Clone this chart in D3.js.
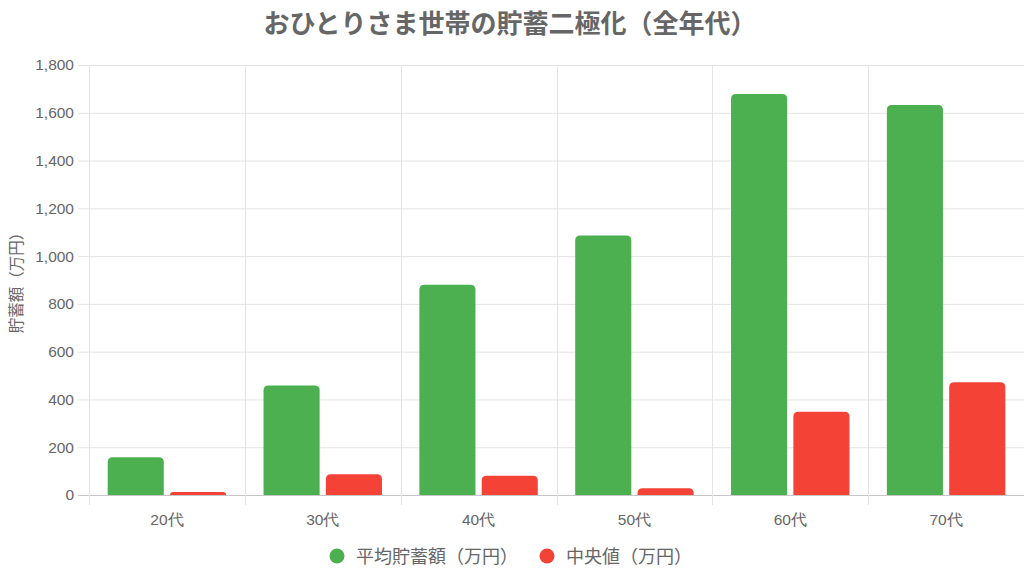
<!DOCTYPE html>
<html>
<head>
<meta charset="utf-8">
<script src="https://cdn.jsdelivr.net/npm/d3@7"></script>
<style>
  html, body { margin: 0; padding: 0; background: #fff; }
  svg { display: block; font-family: "Liberation Sans", "Noto Sans CJK JP", sans-serif; }
</style>
</head>
<body>
<div id="chart"></div>
<script>
// --- Data ---
const categories = ['20代', '30代', '40代', '50代', '60代', '70代'];
const seriesNames = ['平均貯蓄額（万円）', '中央値（万円）'];
const averageValues = [158, 458, 880, 1086, 1679, 1633];
const medianValues = [13, 87, 81, 28, 348, 472];
const yTicks = [0, 200, 400, 600, 800, 1000, 1200, 1400, 1600, 1800];
const seriesColors = ['#4caf50', '#f44336'];

const W = 1024, H = 579;
const margin = { top: 65, right: 0, bottom: 84, left: 89 };
const width = W - margin.left - margin.right;
const height = H - margin.top - margin.bottom;

const svg = d3.select('#chart').append('svg')
    .attr('width', W)
    .attr('height', H);

// Title
svg.append('text')
    .attr('x', W / 2 - 2)
    .attr('y', 33)
    .attr('text-anchor', 'middle')
    .style('font-size', '26px')
    .style('font-weight', 'bold')
    .style('fill', '#666')
    .style('font-family', '"Noto Sans CJK JP", sans-serif')
    .text('おひとりさま世帯の貯蓄二極化（全年代）');

const g = svg.append('g').attr('transform', `translate(${margin.left}, ${margin.top})`);

// Scales
const x0 = d3.scaleBand().domain(categories).range([0, width]).padding(0);
const x1 = d3.scaleBand()
    .domain(seriesNames)
    .range([x0.bandwidth() * 0.1, x0.bandwidth() * 0.9])
    .paddingInner(0.1)
    .paddingOuter(0.05);
const y = d3.scaleLinear().domain([0, 1800]).range([height, 0]);

// Horizontal grid
g.append('g')
    .selectAll('line')
    .data(yTicks)
    .enter()
    .append('line')
    .attr('x1', -11)
    .attr('x2', width)
    .attr('y1', d => y(d) + 0.5)
    .attr('y2', d => y(d) + 0.5)
    .attr('stroke', d => d === 0 ? '#c6c6c6' : '#e4e4e4')
    .attr('stroke-width', 1);

// Vertical grid at category boundaries
const boundaries = categories.map(c => x0(c)).concat([width]);
g.append('g')
    .selectAll('line')
    .data(boundaries)
    .enter()
    .append('line')
    .attr('x1', d => Math.round(d) + 0.5)
    .attr('x2', d => Math.round(d) + 0.5)
    .attr('y1', 0)
    .attr('y2', height + 10)
    .attr('stroke', '#e4e4e4')
    .attr('stroke-width', 1);

// Y axis labels
const yAxis = g.append('g')
    .call(d3.axisLeft(y).tickValues(yTicks).tickSize(0).tickPadding(15).tickFormat(d3.format(',')));
yAxis.select('.domain').remove();
yAxis.selectAll('text')
    .style('font-size', '15.5px')
    .style('fill', '#666');

// X axis labels
const xAxis = g.append('g')
    .attr('transform', `translate(0, ${height})`)
    .call(d3.axisBottom(x0).tickSize(0).tickPadding(19));
xAxis.select('.domain').remove();
xAxis.selectAll('text')
    .style('font-size', '15.5px')
    .style('fill', '#666');

// Y axis title
svg.append('text')
    .attr('transform', `translate(22, ${margin.top + height / 2 - 1}) rotate(-90)`)
    .attr('text-anchor', 'middle')
    .style('font-size', '15.5px')
    .style('fill', '#666')
    .style('font-family', '"Noto Sans CJK JP", sans-serif')
    .text('貯蓄額（万円）');

// Bars (top corners rounded)
function barPath(bx, by, bw, bh, r) {
    r = Math.min(r, bw / 2, bh);
    return `M${bx},${by + bh}` +
        `V${by + r}` +
        `Q${bx},${by} ${bx + r},${by}` +
        `H${bx + bw - r}` +
        `Q${bx + bw},${by} ${bx + bw},${by + r}` +
        `V${by + bh}Z`;
}

const rows = categories.map((c, i) => ({
    cat: c,
    values: [
        { name: seriesNames[0], value: averageValues[i], color: seriesColors[0] },
        { name: seriesNames[1], value: medianValues[i], color: seriesColors[1] }
    ]
}));

g.selectAll('.group')
    .data(rows)
    .enter()
    .append('g')
    .attr('class', 'group')
    .attr('transform', d => `translate(${x0(d.cat)}, 0)`)
    .selectAll('path')
    .data(d => d.values)
    .enter()
    .append('path')
    .attr('d', d => barPath(x1(d.name), y(d.value), x1.bandwidth(), height - y(d.value), 5))
    .attr('fill', d => d.color);

// Legend
const legend = svg.append('g').style('font-family', '"Noto Sans CJK JP", sans-serif');
const legendItems = [
    { name: seriesNames[0], color: seriesColors[0], x: 337 },
    { name: seriesNames[1], color: seriesColors[1], x: 547 }
];
legendItems.forEach(item => {
    legend.append('circle')
        .attr('cx', item.x)
        .attr('cy', 556)
        .attr('r', 7.5)
        .attr('fill', item.color);
    legend.append('text')
        .attr('x', item.x + 19)
        .attr('y', 562.5)
        .style('font-size', '18px')
        .style('fill', '#666')
        .text(item.name);
});
</script>
</body>
</html>
